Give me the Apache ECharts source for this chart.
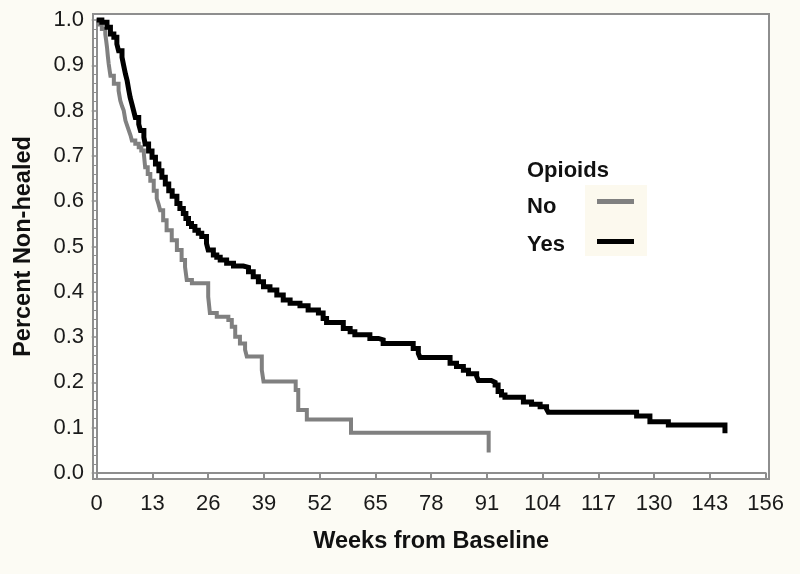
<!DOCTYPE html>
<html>
<head>
<meta charset="utf-8">
<script src="https://cdn.jsdelivr.net/npm/echarts@6/dist/echarts.min.js"></script>
<style>
html,body{margin:0;padding:0;background:#fcfbf4;}
#c{width:800px;height:574px;}
</style>
</head>
<body>
<div id="c"></div>
<script>
// Tick labels of the week axis
const xTicks = [0, 13, 26, 39, 52, 65, 78, 91, 104, 117, 130, 143, 156];
const yTicks = [0.0, 0.1, 0.2, 0.3, 0.4, 0.5, 0.6, 0.7, 0.8, 0.9, 1.0];
const groups = ['No', 'Yes'];

// Opioids = No (grey curve): event weeks and survival (non-healed) after each step
const noWeeks = [0, 0.5, 1.2, 2.0, 2.2, 2.4, 2.6, 2.8, 3.2, 4.0, 5.1, 5.3, 5.5, 5.9, 6.3, 6.7, 7.1, 7.5, 7.9, 8.2, 9.0, 9.8, 10.4, 11.0, 11.3, 11.9, 12.5, 13.3, 14.0, 14.4, 14.8, 15.5, 16.3, 17.5, 18.7, 19.8, 20.6, 21.0, 22.2, 26.0, 26.4, 28.0, 30.7, 31.5, 32.3, 33.4, 34.6, 35.0, 38.5, 38.9, 46.4, 47.0, 49.0, 59.3, 91.4];
const noSurv  = [1.0, 0.99, 0.98, 0.969, 0.955, 0.94, 0.92, 0.903, 0.877, 0.859, 0.844, 0.833, 0.822, 0.81, 0.80, 0.778, 0.767, 0.756, 0.745, 0.734, 0.727, 0.719, 0.712, 0.704, 0.675, 0.66, 0.645, 0.623, 0.606, 0.594, 0.58, 0.558, 0.536, 0.514, 0.492, 0.47, 0.455, 0.426, 0.419, 0.389, 0.353, 0.345, 0.338, 0.323, 0.301, 0.286, 0.272, 0.257, 0.227, 0.202, 0.183, 0.139, 0.118, 0.089, 0.045];

// Opioids = Yes (black curve)
const yesWeeks = [0, 1.2, 2.4, 3.2, 4.0, 4.7, 5.1, 5.9, 6.3, 6.7, 7.1, 7.5, 7.8, 8.2, 8.6, 9.0, 9.8, 10.2, 11.0, 11.3, 12.1, 12.9, 13.7, 14.5, 15.2, 16.0, 16.8, 17.6, 18.7, 19.4, 20.2, 20.8, 21.4, 22.1, 22.9, 23.7, 24.5, 25.6, 26.0, 27.2, 28.0, 28.8, 30.3, 31.9, 34.2, 35.4, 36.5, 37.7, 38.9, 40.4, 42.0, 43.5, 45.1, 47.4, 49.3, 51.7, 52.8, 53.6, 57.5, 59.1, 60.2, 63.7, 65.7, 66.8, 73.8, 75.0, 75.4, 82.4, 83.9, 85.5, 86.7, 88.6, 89.0, 92.0, 92.9, 93.6, 94.4, 95.2, 99.5, 101.4, 103.4, 104.9, 105.3, 125.9, 129.0, 133.3, 146.5];
const yesSurv  = [1.0, 0.995, 0.984, 0.969, 0.962, 0.947, 0.932, 0.918, 0.899, 0.881, 0.866, 0.844, 0.829, 0.815, 0.80, 0.785, 0.770, 0.756, 0.741, 0.726, 0.711, 0.697, 0.682, 0.667, 0.653, 0.638, 0.623, 0.611, 0.595, 0.584, 0.573, 0.562, 0.551, 0.544, 0.536, 0.529, 0.522, 0.507, 0.492, 0.481, 0.476, 0.470, 0.463, 0.457, 0.454, 0.444, 0.433, 0.422, 0.411, 0.404, 0.393, 0.382, 0.375, 0.369, 0.36, 0.353, 0.341, 0.332, 0.319, 0.312, 0.305, 0.297, 0.294, 0.286, 0.275, 0.264, 0.255, 0.242, 0.235, 0.227, 0.219, 0.213, 0.204, 0.200, 0.194, 0.18, 0.172, 0.167, 0.157, 0.152, 0.146, 0.141, 0.134, 0.126, 0.113, 0.106, 0.088];

const FONT = '"Liberation Sans", Arial, sans-serif';
const AXIS_GRAY = '#8e8e8e';
const zip = (a, b) => a.map((v, i) => [v, b[i]]);

const chart = echarts.init(document.getElementById('c'), null, {renderer: 'canvas'});
chart.setOption({
  backgroundColor: '#fcfbf4',
  animation: false,
  title: {
    text: 'Opioids', left: 522, top: 155,
    textStyle: {fontFamily: FONT, fontSize: 22, fontWeight: 'bold', color: '#111'}
  },
  legend: [
    {
      data: groups, orient: 'vertical', left: 517, top: 189,
      icon: 'rect', itemWidth: 0, itemHeight: 0, itemGap: 13,
      selectedMode: false,
      textStyle: {fontFamily: FONT, fontSize: 22, fontWeight: 'bold', color: '#111', lineHeight: 25}
    },
    {
      data: groups, orient: 'vertical', left: 585, top: 185,
      icon: 'rect', itemWidth: 37, itemHeight: 5, itemGap: 35,
      selectedMode: false,
      formatter: () => '',
      backgroundColor: '#fcf9ee',
      padding: [14, 8, 12, 12],
      textStyle: {fontSize: 1, lineHeight: 1}
    }
  ],
  grid: [
    {left: 96.7, right: 34.3, top: 20, bottom: 101, containLabel: false},
    {left: 93, right: 31, top: 14, bottom: 95, show: true, backgroundColor: '#ffffff', borderColor: AXIS_GRAY, borderWidth: 2, z: -1}
  ],
  xAxis: [
    {
      type: 'value', gridIndex: 0,
      min: xTicks[0], max: xTicks[xTicks.length - 1], interval: xTicks[1] - xTicks[0],
      offset: 6,
      axisLine: {show: true, lineStyle: {color: AXIS_GRAY, width: 2}},
      axisTick: {show: true, length: 6, lineStyle: {color: AXIS_GRAY, width: 2}},
      splitLine: {show: false},
      axisLabel: {margin: 14, fontFamily: FONT, fontSize: 22, color: '#1a1a1a'},
      name: 'Weeks from Baseline', nameLocation: 'middle', nameGap: 51,
      nameTextStyle: {fontFamily: FONT, fontSize: 23.5, fontWeight: 'bold', color: '#111'}
    },
    {type: 'value', gridIndex: 1, show: false, min: 0, max: 1}
  ],
  yAxis: [
    {
      type: 'value', gridIndex: 0,
      min: yTicks[0], max: yTicks[yTicks.length - 1], interval: 0.1,
      offset: 3.7,
      axisLine: {show: true, lineStyle: {color: AXIS_GRAY, width: 2}},
      axisTick: {show: true, length: 5, lineStyle: {color: AXIS_GRAY, width: 1.5}},
      minorTick: {show: true, splitNumber: 5, length: 3, lineStyle: {color: AXIS_GRAY, width: 1}},
      splitLine: {show: false},
      axisLabel: {margin: 9, fontFamily: FONT, fontSize: 22, color: '#1a1a1a', formatter: v => v.toFixed(1)},
      name: 'Percent Non-healed', nameLocation: 'middle', nameGap: 57,
      nameTextStyle: {fontFamily: FONT, fontSize: 23.5, fontWeight: 'bold', color: '#111'}
    },
    {type: 'value', gridIndex: 1, show: false, min: 0, max: 1}
  ],
  series: [
    {
      name: groups[0], type: 'line', step: 'end', xAxisIndex: 0, yAxisIndex: 0,
      data: zip(noWeeks, noSurv), showSymbol: false, symbol: 'none', clip: false,
      itemStyle: {color: '#808080'},
      lineStyle: {color: '#808080', width: 4, join: 'miter'}
    },
    {
      name: groups[1], type: 'line', step: 'end', xAxisIndex: 0, yAxisIndex: 0,
      data: zip(yesWeeks, yesSurv), showSymbol: false, symbol: 'none', clip: false,
      itemStyle: {color: '#000000'},
      lineStyle: {color: '#000000', width: 5, join: 'miter'}
    }
  ]
});
</script>
</body>
</html>
